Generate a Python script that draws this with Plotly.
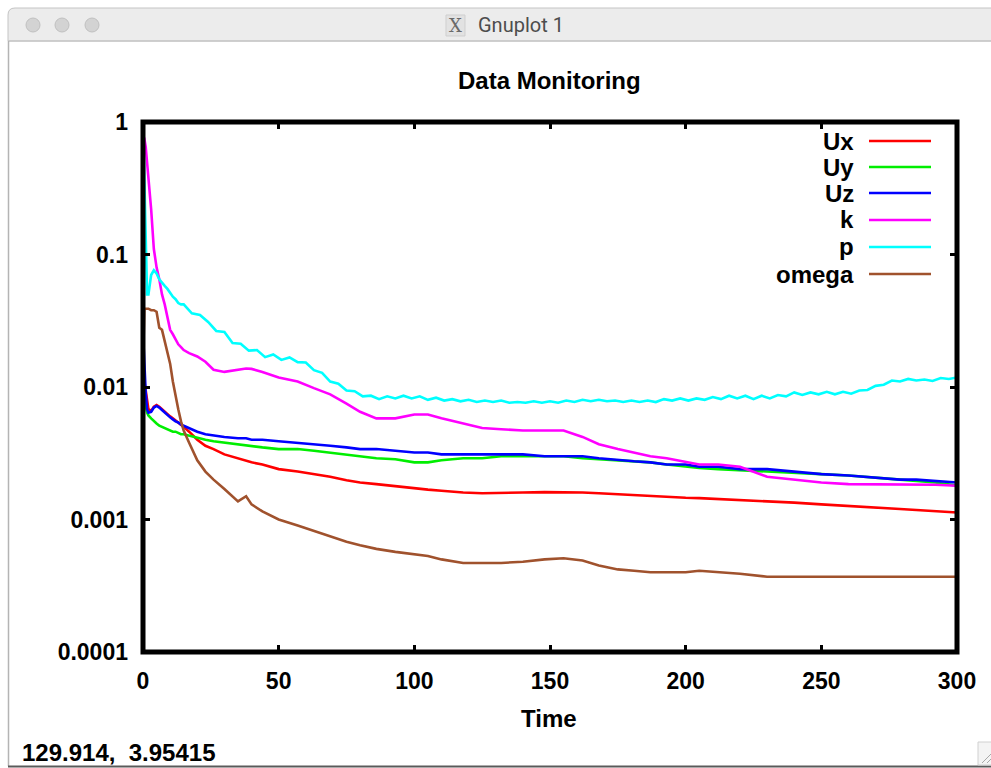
import plotly.graph_objects as go

# ---------------- data ----------------
time = [0, 0.5, 1, 1.5, 2, 3, 4, 5, 6, 7, 8, 9, 10, 11, 12, 13, 14, 15, 17, 20,
        23, 26, 30, 35, 38, 40, 44, 50, 57, 63, 69, 75, 80, 86, 93, 100, 105, 110,
        118, 125, 132, 140, 148, 155, 162, 168, 175, 181, 187, 193, 200, 205, 212,
        220, 230, 240, 250, 260, 267, 273, 279, 285, 292, 300]

ux = [0.013, 0.011, 0.009, 0.0078, 0.0068, 0.0066, 0.0071, 0.0073, 0.0071, 0.0068,
      0.0065, 0.0062, 0.0060, 0.0058, 0.0056, 0.0054, 0.0052, 0.0050, 0.0046, 0.0040,
      0.0036, 0.0034, 0.0031, 0.0029, 0.0028, 0.0027, 0.0026, 0.0024, 0.0023, 0.0022,
      0.0021, 0.00198, 0.0019, 0.00185, 0.00178, 0.00172, 0.00168, 0.00165, 0.0016, 0.00158,
      0.00158, 0.0016, 0.00161, 0.00161, 0.0016, 0.00158, 0.00155, 0.00153, 0.0015, 0.00148,
      0.00146, 0.00145, 0.00143, 0.0014, 0.00137, 0.00134, 0.0013, 0.00127, 0.00125, 0.00123,
      0.0012, 0.00118, 0.00116, 0.00113]

uy = [0.012, 0.009, 0.0072, 0.0064, 0.0061, 0.0058, 0.0055, 0.0053, 0.0051, 0.0050,
      0.0049, 0.0048, 0.0047, 0.0046, 0.0046, 0.0045, 0.0044, 0.0044, 0.0043, 0.0041,
      0.0040, 0.0039, 0.0038, 0.0037, 0.0036, 0.0036, 0.0035, 0.0034, 0.0034, 0.0033,
      0.0032, 0.0031, 0.0030, 0.0029, 0.00285, 0.0027, 0.0027, 0.0028, 0.0029, 0.0029,
      0.0030, 0.0030, 0.0030, 0.0030, 0.0029, 0.00285, 0.0028, 0.00275, 0.0027, 0.0026,
      0.0025, 0.00245, 0.0024, 0.00235, 0.0023, 0.00225, 0.0022, 0.00215, 0.0021, 0.00205,
      0.0020, 0.00195, 0.0019, 0.0018]

uz = [0.026, 0.015, 0.009, 0.0068, 0.0064, 0.0065, 0.0070, 0.0072, 0.0070, 0.0067,
      0.0064, 0.0061, 0.0059, 0.0057, 0.0055, 0.0054, 0.0052, 0.0051, 0.0049, 0.0046,
      0.0044, 0.0043, 0.0042, 0.0041, 0.0041, 0.0040, 0.0040, 0.0039, 0.0038, 0.0037,
      0.0036, 0.0035, 0.0034, 0.0034, 0.0033, 0.0032, 0.0032, 0.0031, 0.0031, 0.0031,
      0.0031, 0.0031, 0.0030, 0.0030, 0.0030, 0.0029, 0.0028, 0.00275, 0.0027, 0.0026,
      0.0026, 0.0025, 0.0025, 0.0024, 0.0024, 0.0023, 0.0022, 0.00215, 0.0021, 0.00205,
      0.0020, 0.0020, 0.00195, 0.0019]

k = [0.8, 0.75, 0.65, 0.5, 0.4, 0.22, 0.11, 0.08, 0.065, 0.05,
     0.042, 0.033, 0.027, 0.025, 0.023, 0.021, 0.020, 0.019, 0.018, 0.017,
     0.0155, 0.0135, 0.013, 0.0135, 0.0138, 0.0137, 0.013, 0.0118, 0.011, 0.0098,
     0.0088, 0.0075, 0.0065, 0.0058, 0.0058, 0.0062, 0.0062, 0.0058, 0.0053, 0.0049,
     0.0048, 0.0047, 0.0047, 0.0047, 0.0042, 0.0037, 0.0034, 0.0032, 0.0030, 0.0029,
     0.0027, 0.0026, 0.0026, 0.0025, 0.0021, 0.0020, 0.0019, 0.00185, 0.00185, 0.00185,
     0.00185, 0.00185, 0.00183, 0.0018]

omega = [0.015, 0.039, 0.039, 0.039, 0.039, 0.038, 0.038, 0.037, 0.028, 0.027,
         0.022, 0.018, 0.015, 0.011, 0.0085, 0.0068, 0.0055, 0.0047, 0.0038, 0.0028,
         0.0023, 0.0020, 0.0017, 0.00137, 0.0015, 0.0013, 0.00115, 0.0010, 0.0009, 0.00082,
         0.00075, 0.00068, 0.00064, 0.0006, 0.00057, 0.00055, 0.00053, 0.0005, 0.00047, 0.00047,
         0.00047, 0.00048, 0.0005, 0.00051, 0.00049, 0.00045, 0.00042, 0.00041, 0.0004, 0.0004,
         0.0004, 0.00041, 0.0004, 0.00039, 0.00037, 0.00037, 0.00037, 0.00037, 0.00037, 0.00037,
         0.00037, 0.00037, 0.00037, 0.00037]

time_p = [0, 0.5, 1, 1.5, 2, 3, 4, 5, 6, 7, 8, 9, 10, 11, 12, 13, 14,
          15, 18, 21, 24, 27, 30, 33, 36, 39, 42, 45, 48, 51, 54, 57, 60, 63, 66, 69, 72,
          75, 78, 81, 84, 87, 90, 93, 96, 99, 102, 105, 108, 111, 114, 117, 120, 123, 126,
          129, 132, 135, 138, 141, 144, 147, 150, 153, 156, 159, 162, 165, 168, 171, 174,
          177, 180, 183, 186, 189, 192, 195, 198, 201, 204, 207, 210, 213, 216, 219, 222,
          225, 228, 231, 234, 237, 240, 243, 246, 249, 252, 255, 258, 261, 264, 267, 270,
          273, 276, 279, 282, 285, 288, 291, 294, 297, 300]

p = [1.0, 0.35, 0.12, 0.05, 0.05, 0.07, 0.076, 0.072, 0.065, 0.061, 0.058, 0.055, 0.051,
     0.048, 0.046, 0.043, 0.042,
     0.042, 0.036, 0.035, 0.031, 0.0265, 0.026, 0.0215, 0.0212, 0.0188, 0.0190, 0.0168,
     0.0176, 0.0160, 0.0167, 0.0154, 0.0153, 0.0134, 0.0128, 0.0110, 0.0106, 0.0094,
     0.0093, 0.0085, 0.0086, 0.0081, 0.0085, 0.0082, 0.0086, 0.0082, 0.0085, 0.0080,
     0.0083, 0.0079, 0.0081, 0.0078, 0.0080, 0.0077, 0.0079, 0.0077, 0.0079, 0.0076,
     0.0077, 0.0076, 0.0078, 0.0076, 0.0078, 0.0076, 0.0079, 0.0077, 0.0080, 0.0078,
     0.0080, 0.0078, 0.0079, 0.0077, 0.0079, 0.0077, 0.0079, 0.0077, 0.0081, 0.0079,
     0.0082, 0.0079, 0.0082, 0.0080, 0.0084, 0.0081, 0.0086, 0.0082, 0.0086, 0.0081,
     0.0086, 0.0082, 0.0087, 0.0085, 0.0091, 0.0087, 0.0091, 0.0088, 0.0092, 0.0088,
     0.0092, 0.0089, 0.0094, 0.0095, 0.0102, 0.0104, 0.0112, 0.0110, 0.0115, 0.0112,
     0.0114, 0.0111, 0.0117, 0.0115, 0.0118]

series_names = ["Ux", "Uy", "Uz", "k", "p", "omega"]
series_colors = ["#ff0000", "#00ee00", "#0000ff", "#ff00ff", "#00ffff", "#a0522d"]

x_ticks = [0, 50, 100, 150, 200, 250, 300]
y_ticks = [0.0001, 0.001, 0.01, 0.1, 1]
y_tick_text = ["0.0001", "0.001", "0.01", "0.1", "1"]

# ---------------- layout geometry (pixels) ----------------
W, H = 991, 768
L, R, T, B = 143, 957, 122, 652


def xp(px):
    return (px - L) / (R - L)


def yp(py):
    return (B - py) / (B - T)


FONT = "Liberation Sans"


def bold(s):
    return f"<b>{s}</b>"


fig = go.Figure()
xs_list = [time, time, time, time, time_p, time]
ys_list = [ux, uy, uz, k, p, omega]
for name, col, xs, ys in zip(series_names, series_colors, xs_list, ys_list):
    fig.add_trace(go.Scatter(x=xs, y=ys, mode="lines", name=name,
                             line=dict(color=col, width=2.6), showlegend=False))

shapes = []
annotations = []

# --- window chrome ---
shapes.append(dict(type="path", xref="paper", yref="paper",
                   path=f"M {xp(8)},{yp(41)} L {xp(8)},{yp(15)} Q {xp(8)},{yp(8)} {xp(15)},{yp(8)} "
                        f"L {xp(1000)},{yp(8)} L {xp(1000)},{yp(41)} Z",
                   fillcolor="#ececec", line=dict(color="#c4c4c4", width=1), layer="below"))
shapes.append(dict(type="line", xref="paper", yref="paper", x0=xp(8), x1=xp(1000),
                   y0=yp(41), y1=yp(41), line=dict(color="#c8c8c8", width=1.5)))
shapes.append(dict(type="line", xref="paper", yref="paper", x0=xp(8.5), x1=xp(8.5),
                   y0=yp(41), y1=yp(766), line=dict(color="#b4b4b4", width=1.5)))
shapes.append(dict(type="line", xref="paper", yref="paper", x0=xp(8), x1=xp(1000),
                   y0=yp(766.5), y1=yp(766.5), line=dict(color="#5a5a5a", width=2)))
for cx in [33, 62, 92]:
    shapes.append(dict(type="circle", xref="paper", yref="paper",
                       x0=xp(cx - 7), x1=xp(cx + 7), y0=yp(25 + 7), y1=yp(25 - 7),
                       fillcolor="#d3d3d3", line=dict(color="#c0c0c0", width=1)))
shapes.append(dict(type="rect", xref="paper", yref="paper", x0=xp(446), x1=xp(465),
                   y0=yp(36), y1=yp(15), fillcolor="#e2e2e2", line=dict(color="#cfcfcf", width=1)))
annotations.append(dict(text="X", xref="paper", yref="paper", x=xp(455.5), y=yp(25.5),
                        showarrow=False, xanchor="center", yanchor="middle",
                        font=dict(family="DejaVu Serif", size=18, color="#6a6a6a")))
annotations.append(dict(text="Gnuplot 1", xref="paper", yref="paper", x=xp(476), y=yp(25),
                        showarrow=False, xanchor="left", yanchor="middle",
                        font=dict(family="Roboto", size=20, color="#4d4d4d")))
shapes.append(dict(type="rect", xref="paper", yref="paper", x0=xp(978), x1=xp(998),
                   y0=yp(765), y1=yp(742), fillcolor="#f4f4f4", line=dict(color="#d0d0d0", width=1)))
for off in [0, 5]:
    shapes.append(dict(type="line", xref="paper", yref="paper", x0=xp(982 + off), x1=xp(991),
                       y0=yp(763), y1=yp(754 + off), line=dict(color="#a8a8a8", width=1)))

# --- chart title, axis title, status line ---
annotations.append(dict(text=bold("Data Monitoring"), xref="paper", yref="paper", x=xp(549), y=yp(81),
                        showarrow=False, xanchor="center", yanchor="middle",
                        font=dict(family=FONT, size=24, color="black")))
annotations.append(dict(text=bold("Time"), xref="paper", yref="paper", x=xp(549), y=yp(718),
                        showarrow=False, xanchor="center", yanchor="middle",
                        font=dict(family=FONT, size=24, color="black")))
annotations.append(dict(text=bold("129.914,  3.95415"), xref="paper", yref="paper", x=xp(20), y=yp(752),
                        showarrow=False, xanchor="left", yanchor="middle",
                        font=dict(family=FONT, size=24, color="black")))

# --- legend drawn gnuplot style ---
legend_rows = [141, 167, 193, 220, 247, 274]
for name, col, ry in zip(series_names, series_colors, legend_rows):
    annotations.append(dict(text=bold(name), xref="paper", yref="paper", x=xp(856), y=yp(ry),
                            showarrow=False, xanchor="right", yanchor="middle",
                            font=dict(family=FONT, size=24, color="black")))
    shapes.append(dict(type="line", xref="paper", yref="paper", x0=xp(869), x1=xp(931),
                       y0=yp(ry), y1=yp(ry), line=dict(color=col, width=2.6)))

shapes.append(dict(type="rect", xref="paper", yref="paper", x0=0, x1=1, y0=0, y1=1,
                   line=dict(color="black", width=5), layer="above"))

fig.update_layout(
    width=W, height=H,
    margin=dict(l=L, r=W - R, t=T, b=H - B, pad=0),
    paper_bgcolor="white", plot_bgcolor="white",
    shapes=shapes, annotations=annotations, showlegend=False,
    font=dict(family=FONT, size=23, color="black"),
)
fig.update_xaxes(range=[0, 300], tickvals=x_ticks, ticktext=[bold(v) for v in x_ticks],
                 ticks="inside", ticklen=7, tickwidth=3,
                 tickcolor="black", showgrid=False, zeroline=False, showline=False,
                 mirror="ticks", ticklabelstandoff=13,
                 tickfont=dict(family=FONT, size=23, color="black"))
fig.update_yaxes(type="log", range=[-4, 0], tickvals=y_ticks, ticktext=[bold(v) for v in y_tick_text],
                 ticks="inside", ticklen=7, tickwidth=3, tickcolor="black", showgrid=False,
                 zeroline=False, showline=False, mirror="ticks", ticklabelstandoff=14,
                 tickfont=dict(family=FONT, size=23, color="black"))

fig.write_html("out.html", config={"displayModeBar": False},
               post_script="document.body.style.margin='0';")
